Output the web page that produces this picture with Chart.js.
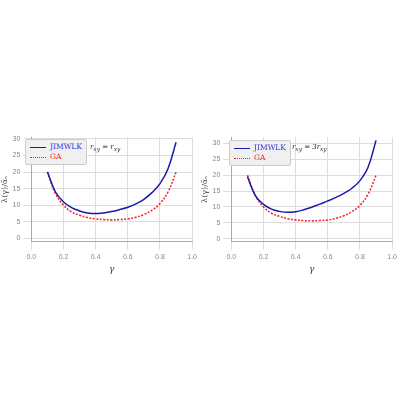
<!DOCTYPE html>
<html><head><meta charset="utf-8">
<script src="https://cdn.jsdelivr.net/npm/chart.js@4"></script>
<style>
body{margin:0;width:400px;height:400px;background:#fff;font-family:"DejaVu Serif",serif;position:relative;overflow:hidden}
.box{position:absolute;top:130px;width:200px;height:145px}
.leg{position:absolute;background:#f0f0f0;border:1px solid #ccc;border-radius:2px;font-size:7.5px;padding:2px 4px;line-height:10px}
.leg span{display:inline-block;width:16px;height:0;vertical-align:middle;margin-right:4px}
.note{position:absolute;font-size:7px;font-style:italic;color:#222}
</style></head><body>
<div class="box" style="left:0"><canvas id="c1"></canvas></div>
<div class="box" style="left:200px"><canvas id="c2"></canvas></div>
<div class="leg" style="left:25px;top:139px"><div style="color:#3333dd"><span style="border-top:1.5px solid #1a1aaa"></span>JIMWLK</div><div style="color:#e22"><span style="border-top:1.5px dotted #e22"></span>GA</div></div>
<div class="note" style="left:90px;top:143px">r<sub>xy</sub> = r<sub>xy</sub></div>
<div class="leg" style="left:229px;top:140px"><div style="color:#3333dd"><span style="border-top:1.5px solid #1a1aaa"></span>JIMWLK</div><div style="color:#e22"><span style="border-top:1.5px dotted #e22"></span>GA</div></div>
<div class="note" style="left:292px;top:143px">r<sub>xy</sub> = 3r<sub>xy</sub></div>
<script>
const gammas = [0.1,0.15,0.2,0.25,0.3,0.35,0.4,0.45,0.5,0.55,0.6,0.65,0.7,0.75,0.8,0.85,0.9];
const jimwlkLeft = [20,14,11,9.3,8.3,7.7,7.5,7.7,8.1,8.7,9.4,10.4,11.8,13.8,16.5,21,29];
const jimwlkRight = [19.5,13.5,10.8,9.3,8.6,8.3,8.5,9.1,9.9,10.9,11.9,13.0,14.3,15.9,18.3,22.5,31];
const gaValues = [20,13.5,10,8,7,6.3,5.9,5.7,5.6,5.7,5.9,6.4,7.2,8.5,10.5,14,20];

function render(id, jim, ymax) {
    new Chart(document.getElementById(id), {
        type: 'line',
        data: {
            datasets: [
                { data: jim.map((v, i) => ({ x: gammas[i], y: v })), borderColor: '#1a1aaa', borderWidth: 1.5, pointRadius: 0, tension: 0.4 },
                { data: gaValues.map((v, i) => ({ x: gammas[i], y: v })), borderColor: '#ee2222', borderWidth: 1.5, borderDash: [2, 1.5], pointRadius: 0, tension: 0.4 },
            ],
        },
        options: {
            animation: false, responsive: false, maintainAspectRatio: false,
            layout: { padding: { right: 6, top: 6 } },
            plugins: { legend: { display: false }, tooltip: { enabled: false } },
            scales: {
                x: { type: 'linear', min: 0, max: 1,
                    ticks: { stepSize: 0.2, color: '#888', font: { size: 7 }, callback: (v) => v.toFixed(1) },
                    grid: { color: '#ddd' }, border: { color: '#aaa' },
                    title: { display: true, text: 'γ', color: '#444', font: { size: 9, family: 'DejaVu Serif', style: 'italic' }, padding: 0 } },
                y: { min: -1, max: ymax,
                    afterBuildTicks: (ax) => { ax.ticks = [0,5,10,15,20,25,30].map((v) => ({ value: v })); },
                    ticks: { color: '#888', font: { size: 7 } },
                    grid: { color: '#ddd' }, border: { color: '#aaa' },
                    title: { display: true, text: 'λ(γ)/ᾱₛ', color: '#444', font: { size: 8, family: 'DejaVu Serif' }, padding: 0 } },
            },
        },
    });
}
['c1','c2'].forEach((id) => { const c = document.getElementById(id); c.width = 200; c.height = 145; });
render('c1', jimwlkLeft, 30.5);
render('c2', jimwlkRight, 32);
</script>
</body></html>
